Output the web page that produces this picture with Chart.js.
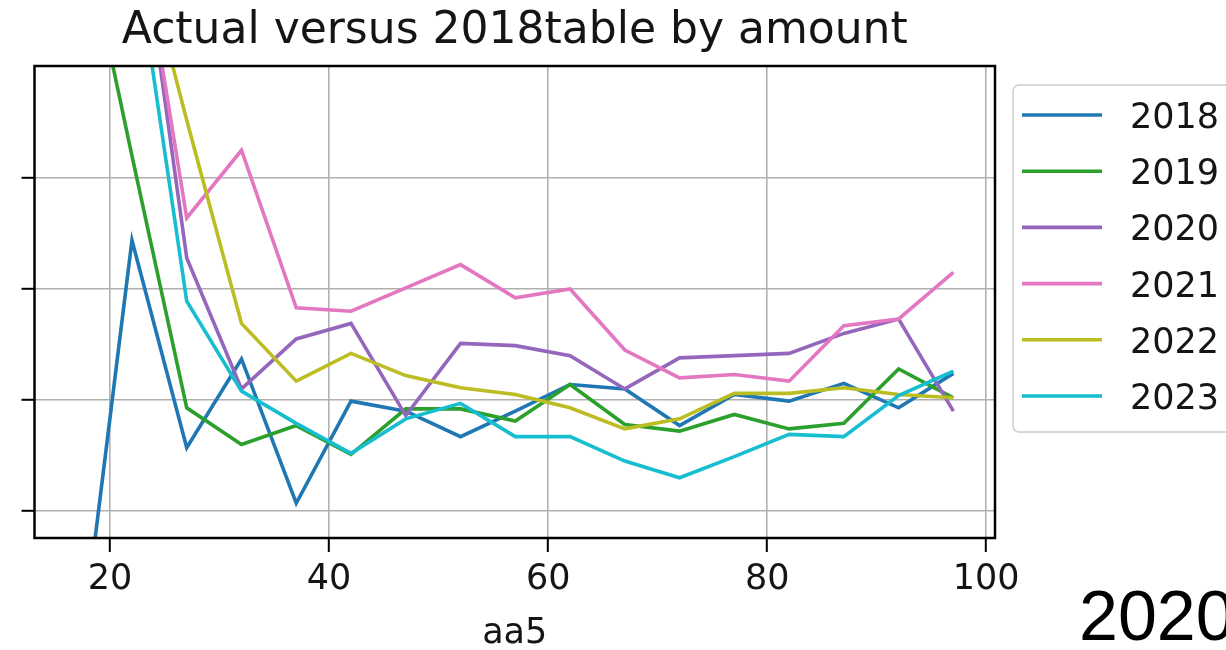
<!DOCTYPE html>
<html>
<head>
<meta charset="utf-8">
<script src="https://cdn.jsdelivr.net/npm/chart.js@4.4.1/dist/chart.umd.min.js"></script>
<style>
  html, body { margin: 0; padding: 0; background: #ffffff; }
  #wrap { width: 1226px; height: 650px; position: relative; }
</style>
</head>
<body>
<div id="wrap"><canvas id="chart" width="1226" height="650"></canvas></div>
<script>
// Amount buckets (x) and the ratio of actual to the 2018 table for each year
const amounts = [17, 22, 27, 32, 37, 42, 47, 52, 57, 62, 67, 72, 77, 82, 87, 92, 97];
const years = ['2018', '2019', '2020', '2021', '2022', '2023'];
const yearColors = ['#1f77b4', '#2ca02c', '#9467bd', '#e377c2', '#bcbd22', '#17becf'];

const ratio2018 = [0.745, 1.144, 0.957, 1.037, 0.907, 0.999, 0.990, 0.967, 0.990, 1.014, 1.010, 0.977, 1.005, 0.999, 1.015, 0.993, 1.024];
const ratio2019 = [1.452, 1.220, 0.993, 0.960, 0.977, 0.951, 0.992, 0.992, 0.981, 1.014, 0.978, 0.972, 0.987, 0.974, 0.979, 1.028, 1.002];
const ratio2020 = [1.750, 1.484, 1.128, 1.010, 1.055, 1.069, 0.986, 1.051, 1.049, 1.040, 1.010, 1.038, 1.040, 1.042, 1.060, 1.073, 0.990];
const ratio2021 = [1.700, 1.469, 1.164, 1.225, 1.083, 1.080, 1.101, 1.122, 1.092, 1.100, 1.045, 1.020, 1.023, 1.017, 1.067, 1.073, 1.115];
const ratio2022 = [1.600, 1.442, 1.252, 1.069, 1.017, 1.042, 1.022, 1.011, 1.005, 0.993, 0.974, 0.983, 1.006, 1.006, 1.011, 1.005, 1.002];
const ratio2023 = [1.650, 1.424, 1.089, 1.008, 0.979, 0.952, 0.983, 0.997, 0.967, 0.967, 0.945, 0.930, 0.949, 0.969, 0.967, 1.004, 1.026];

const xTickValues = [20, 40, 60, 80, 100];
const yTickValues = [0.9, 1.0, 1.1, 1.2];

const chartTitle = 'Actual versus 2018table by amount';
const xAxisTitle = 'aa5';
const cornerLabel = '2020';

const seriesValues = [ratio2018, ratio2019, ratio2020, ratio2021, ratio2022, ratio2023];

const datasets = years.map((yr, i) => ({
  label: yr,
  data: amounts.map((a, j) => ({ x: a, y: seriesValues[i][j] })),
  borderColor: yearColors[i],
  backgroundColor: yearColors[i],
  borderWidth: 3.6,
  pointRadius: 0,
  pointHoverRadius: 0,
  tension: 0,
  fill: false,
  // later years are drawn over earlier ones
  order: years.length - i
}));

const TEXT = '#151515';
const SANS = "'DejaVu Sans', sans-serif";

// Frame, title, axis title, legend box and the corner caption
const decorations = {
  id: 'decorations',
  beforeDraw(chart) {
    const ctx = chart.ctx;
    ctx.save();
    ctx.fillStyle = '#ffffff';
    ctx.fillRect(0, 0, chart.width, chart.height);
    ctx.restore();
  },
  afterDraw(chart) {
    const ctx = chart.ctx;
    const area = chart.chartArea;
    const midX = (area.left + area.right) / 2;
    ctx.save();

    // axes frame on all four sides
    ctx.strokeStyle = '#000000';
    ctx.lineWidth = 2.5;
    ctx.strokeRect(area.left, area.top, area.right - area.left, area.bottom - area.top);

    // title
    ctx.fillStyle = TEXT;
    ctx.font = '44px ' + SANS;
    ctx.textAlign = 'center';
    ctx.textBaseline = 'alphabetic';
    ctx.fillText(chartTitle, midX, 43);

    // x axis title
    ctx.font = '35px ' + SANS;
    ctx.fillText(xAxisTitle, midX, 643);

    // legend
    const boxL = 1013, boxT = 85, boxR = 1250, boxB = 432, r = 6;
    ctx.beginPath();
    ctx.moveTo(boxL + r, boxT);
    ctx.lineTo(boxR - r, boxT);
    ctx.arcTo(boxR, boxT, boxR, boxT + r, r);
    ctx.lineTo(boxR, boxB - r);
    ctx.arcTo(boxR, boxB, boxR - r, boxB, r);
    ctx.lineTo(boxL + r, boxB);
    ctx.arcTo(boxL, boxB, boxL, boxB - r, r);
    ctx.lineTo(boxL, boxT + r);
    ctx.arcTo(boxL, boxT, boxL + r, boxT, r);
    ctx.closePath();
    ctx.fillStyle = 'rgba(255,255,255,0.85)';
    ctx.fill();
    ctx.strokeStyle = '#cccccc';
    ctx.lineWidth = 1.5;
    ctx.stroke();

    ctx.textAlign = 'left';
    ctx.font = '35px ' + SANS;
    chart.data.datasets.forEach((ds, i) => {
      const y = 115 + i * 56.2;
      ctx.strokeStyle = ds.borderColor;
      ctx.lineWidth = 3.6;
      ctx.beginPath();
      ctx.moveTo(1022, y);
      ctx.lineTo(1102, y);
      ctx.stroke();
      ctx.fillStyle = TEXT;
      ctx.fillText(ds.label, 1130, y + 13);
    });

    // corner caption
    ctx.fillStyle = '#000000';
    ctx.font = "70px 'Liberation Sans', Arial, sans-serif";
    ctx.textAlign = 'left';
    ctx.fillText(cornerLabel, 1079, 640);

    ctx.restore();
  }
};

new Chart(document.getElementById('chart'), {
  type: 'line',
  data: { datasets },
  plugins: [decorations],
  options: {
    responsive: false,
    animation: false,
    devicePixelRatio: 1,
    layout: { padding: { left: 0, right: 231, top: 66, bottom: 0 } },
    plugins: {
      legend: { display: false },
      title: { display: false },
      tooltip: { enabled: false }
    },
    scales: {
      x: {
        type: 'linear',
        min: 13.1,
        max: 100.8,
        afterBuildTicks: s => { s.ticks = xTickValues.map(v => ({ value: v })); },
        afterFit: s => { s.height = 112; },
        ticks: {
          color: TEXT,
          font: { family: SANS, size: 35 },
          padding: 7,
          maxRotation: 0,
          autoSkip: false
        },
        grid: {
          color: '#b0b0b0',
          lineWidth: 1.6,
          drawTicks: true,
          tickLength: 14,
          tickColor: '#000000',
          tickWidth: 2
        },
        border: { display: false }
      },
      y: {
        type: 'linear',
        min: 0.8757,
        max: 1.3009,
        afterBuildTicks: s => { s.ticks = yTickValues.map(v => ({ value: v })); },
        afterFit: s => { s.width = 34.5; },
        ticks: { display: false },
        grid: {
          color: '#b0b0b0',
          lineWidth: 1.6,
          drawTicks: true,
          tickLength: 13,
          tickColor: '#000000',
          tickWidth: 2
        },
        border: { display: false }
      }
    }
  }
});
</script>
</body>
</html>
